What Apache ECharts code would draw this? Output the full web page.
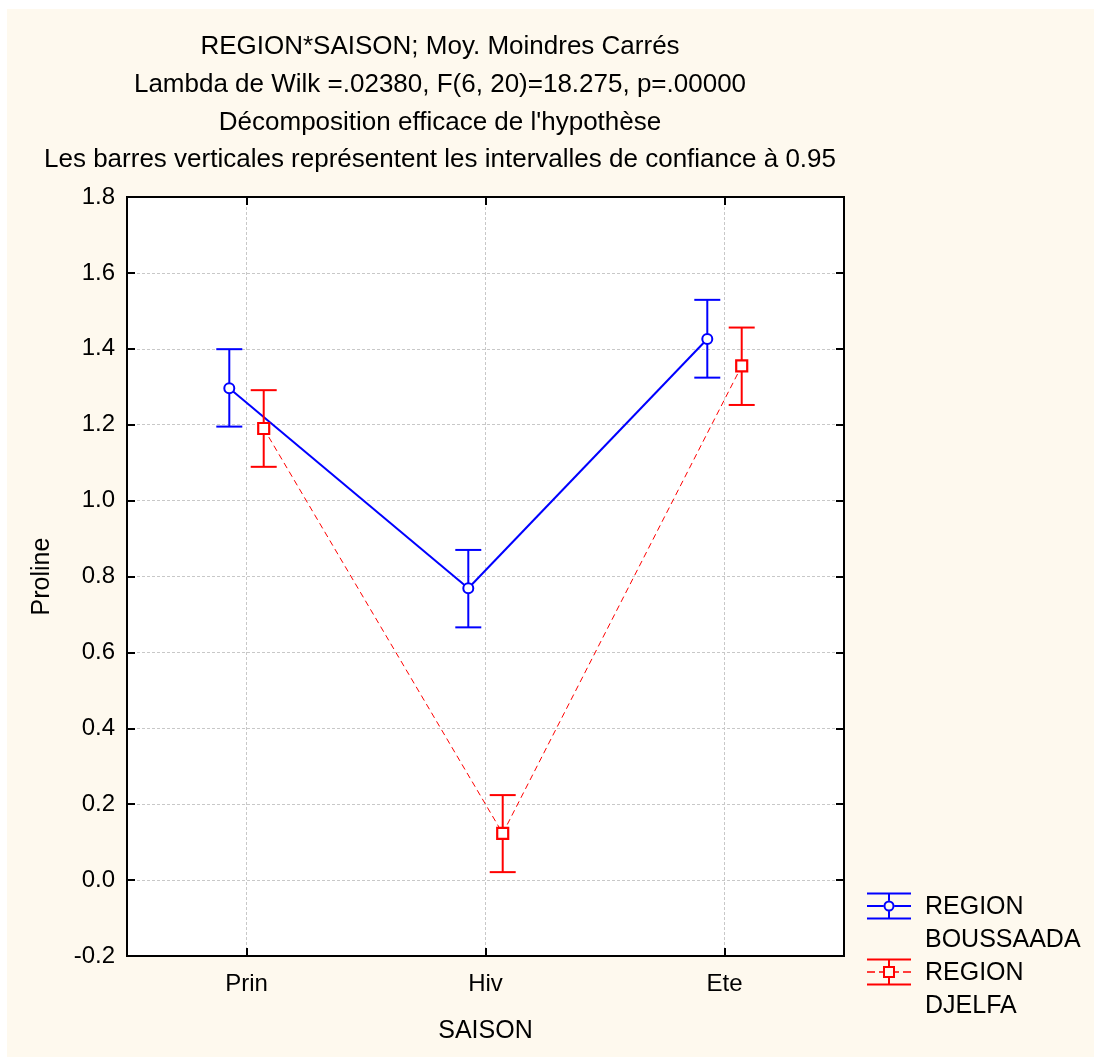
<!DOCTYPE html>
<html>
<head>
<meta charset="utf-8">
<script src="https://cdn.jsdelivr.net/npm/echarts@6/dist/echarts.min.js"></script>
<style>
  html, body { margin: 0; padding: 0; background: #ffffff; }
  #chart { position: absolute; left: 7px; top: 9px; width: 1087px; height: 1048px; background: #FEF9EE; }
</style>
</head>
<body>
<div id="chart"></div>
<script>
// ---- data ----
const categories = ['Prin', 'Hiv', 'Ete'];
const seriesNames = ['REGION\nBOUSSAADA', 'REGION\nDJELFA'];
const boussaadaMean = [1.296, 0.769, 1.426];
const boussaadaLow  = [1.195, 0.666, 1.324];
const boussaadaHigh = [1.399, 0.870, 1.529];
const djelfaMean = [1.190, 0.123, 1.355];
const djelfaLow  = [1.089, 0.021, 1.252];
const djelfaHigh = [1.291, 0.224, 1.456];
const titleLines = [
  'REGION*SAISON; Moy. Moindres Carrés',
  'Lambda de Wilk =.02380, F(6, 20)=18.275, p=.00000',
  'Décomposition efficace de l\'hypothèse',
  'Les barres verticales représentent les intervalles de confiance à 0.95'
];
const yTicks = { min: -0.2, max: 1.8, step: 0.2 };

// ---- styles ----
const FONT = "'Liberation Sans', Arial, sans-serif";
const colors = ['#0000FF', '#FF0000'];
const offsets = [-0.072, 0.072];   // fraction of the category band
const means = [boussaadaMean, djelfaMean];

function build(mean, low, high) {
  return mean.map((m, i) => [i, m, low[i], high[i]]);
}

const blueIcon = 'path://M0 0L0 0M53 66L53 66' +
  'M0 1.5H44V3.5H0Z M0 26.5H44V28.5H0Z' +
  'M0 14H16.5V16H0Z M27.5 14H44V16H27.5Z' +
  'M21 2.5H23V9.5H21Z M21 20.5H23V27.5H21Z' +
  'M27.5 15A5.5 5.5 0 1 1 16.5 15A5.5 5.5 0 1 1 27.5 15Z' +
  'M25.5 15A3.5 3.5 0 1 0 18.5 15A3.5 3.5 0 1 0 25.5 15Z';
const redIcon = 'path://M0 0L0 0M53 66L53 66' +
  'M0 1.5H44V3.5H0Z M0 26.5H44V28.5H0Z' +
  'M0 14.25H8V15.75H0Z M12 14.25H16V15.75H12Z M28 14.25H32V15.75H28Z M36 14.25H44V15.75H36Z' +
  'M21 2.5H23V9H21Z M21 21H23V27.5H21Z' +
  'M16 9H28V21H16Z M18 11V19H26V11Z';

function makeRender(si) {
  return function (params, api) {
    const i = api.value(0);
    const band = api.size([1, 0])[0];
    const off = offsets[si] * band;
    const c = api.coord([i, api.value(1)]);
    const lo = api.coord([i, api.value(2)]);
    const hi = api.coord([i, api.value(3)]);
    const x = c[0] + off;
    const col = colors[si];
    const half = 13;
    const children = [];
    const arr = means[si];
    if (i + 1 < arr.length) {
      const n = api.coord([i + 1, arr[i + 1]]);
      children.push({
        type: 'line', z2: 1,
        shape: { x1: x, y1: c[1], x2: n[0] + off, y2: n[1] },
        style: si === 0 ? { stroke: col, lineWidth: 2 } : { stroke: col, lineWidth: 1, lineDash: [6, 4] }
      });
    }
    children.push({ type: 'line', z2: 2, shape: { x1: x, y1: hi[1], x2: x, y2: lo[1] }, style: { stroke: col, lineWidth: 2 } });
    children.push({ type: 'line', z2: 2, shape: { x1: x - half, y1: hi[1], x2: x + half, y2: hi[1] }, style: { stroke: col, lineWidth: 2 } });
    children.push({ type: 'line', z2: 2, shape: { x1: x - half, y1: lo[1], x2: x + half, y2: lo[1] }, style: { stroke: col, lineWidth: 2 } });
    if (si === 0) {
      children.push({ type: 'circle', z2: 5, shape: { cx: x, cy: c[1], r: 5 }, style: { fill: '#fff', stroke: col, lineWidth: 2 } });
    } else {
      children.push({ type: 'rect', z2: 5, shape: { x: x - 5.5, y: c[1] - 5.5, width: 11, height: 11 }, style: { fill: '#fff', stroke: col, lineWidth: 2.2 } });
    }
    return { type: 'group', children: children };
  };
}

const chart = echarts.init(document.getElementById('chart'), null, { renderer: 'canvas' });

const axisLineStyle = { color: '#000', width: 2 };
const gridLineStyle = { color: '#c8c8c8', width: 1, type: [3, 2] };

chart.setOption({
  animation: false,
  backgroundColor: '#FEF9EE',
  textStyle: { fontFamily: FONT },
  title: {
    text: titleLines.join('\n'),
    left: 428, top: 14, textAlign: 'center',
    textStyle: { fontFamily: FONT, fontSize: 26, fontWeight: 'normal', color: '#000', lineHeight: 37.8 }
  },
  legend: {
    orient: 'vertical', left: 860, top: 882, padding: 0, itemGap: 0,
    itemWidth: 53, itemHeight: 66, selectedMode: false,
    itemStyle: { borderWidth: 0 },
    textStyle: { fontFamily: FONT, fontSize: 25, color: '#000', lineHeight: 33 },
    data: [
      { name: seriesNames[0], icon: blueIcon },
      { name: seriesNames[1], icon: redIcon }
    ]
  },
  grid: { left: 120, top: 188, width: 717, height: 759, show: true, borderColor: '#000', borderWidth: 2, backgroundColor: '#ffffff' },
  xAxis: [
    {
      type: 'category', data: categories, position: 'bottom', boundaryGap: true,
      axisLine: { show: true, onZero: false, lineStyle: axisLineStyle },
      axisTick: { show: true, inside: true, alignWithLabel: true, length: 8, lineStyle: axisLineStyle },
      axisLabel: { fontFamily: FONT, fontSize: 24, color: '#000', margin: 16 },
      splitLine: { show: true, alignWithLabel: true, lineStyle: gridLineStyle },
      name: 'SAISON', nameLocation: 'middle', nameGap: 63,
      nameTextStyle: { fontFamily: FONT, fontSize: 25, color: '#000' }
    },
    {
      type: 'category', data: categories, position: 'top', boundaryGap: true,
      axisLine: { show: true, onZero: false, lineStyle: axisLineStyle },
      axisTick: { show: true, inside: true, alignWithLabel: true, length: 8, lineStyle: axisLineStyle },
      axisLabel: { show: false }, splitLine: { show: false }
    }
  ],
  yAxis: [
    {
      type: 'value', min: yTicks.min, max: yTicks.max, interval: yTicks.step, position: 'left',
      axisLine: { show: true, onZero: false, lineStyle: axisLineStyle },
      axisTick: { show: true, inside: true, length: 8, lineStyle: axisLineStyle },
      axisLabel: { fontFamily: FONT, fontSize: 24, color: '#000', margin: 12, formatter: v => v.toFixed(1) },
      splitLine: { show: true, lineStyle: gridLineStyle },
      name: 'Proline', nameLocation: 'middle', nameGap: 72,
      nameTextStyle: { fontFamily: FONT, fontSize: 25, color: '#000' }
    },
    {
      type: 'value', min: yTicks.min, max: yTicks.max, interval: yTicks.step, position: 'right',
      axisLine: { show: true, onZero: false, lineStyle: axisLineStyle },
      axisTick: { show: true, inside: true, length: 8, lineStyle: axisLineStyle },
      axisLabel: { show: false }, splitLine: { show: false }
    }
  ],
  series: [
    {
      name: seriesNames[0], type: 'custom', xAxisIndex: 0, yAxisIndex: 0,
      itemStyle: { color: colors[0], borderWidth: 0 },
      encode: { x: 0, y: [1, 2, 3] },
      renderItem: makeRender(0),
      data: build(boussaadaMean, boussaadaLow, boussaadaHigh)
    },
    {
      name: seriesNames[1], type: 'custom', xAxisIndex: 0, yAxisIndex: 0,
      itemStyle: { color: colors[1], borderWidth: 0 },
      encode: { x: 0, y: [1, 2, 3] },
      renderItem: makeRender(1),
      data: build(djelfaMean, djelfaLow, djelfaHigh)
    }
  ]
});
</script>
</body>
</html>
